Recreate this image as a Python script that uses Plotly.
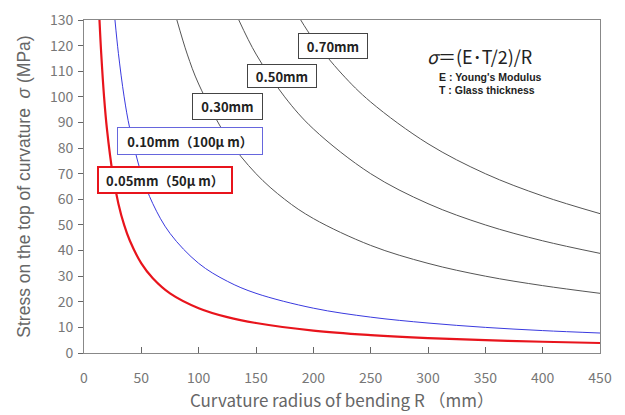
import plotly.graph_objects as go

# Curvature radius R (mm) and stress (MPa)
r_005 = [13.5, 15, 17.5, 20, 25, 30, 35, 40, 50, 60, 75, 100, 125, 150, 200, 250, 300, 350, 400, 450]
s_005 = [130, 117, 100, 87.5, 70, 58.3, 50, 43.8, 35, 29.2, 23.3, 17.5, 14, 11.7, 8.75, 7, 5.8, 5, 4.4, 3.9]

r_010 = [27, 30, 35, 40, 50, 60, 75, 100, 125, 150, 200, 250, 300, 350, 400, 450]
s_010 = [130, 117, 100, 87.5, 70, 58.3, 46.7, 35, 28, 23.3, 17.5, 14, 11.7, 10, 8.75, 7.8]

r_030 = [81, 90, 100, 125, 150, 175, 200, 250, 300, 350, 400, 450]
s_030 = [130, 116.7, 105, 84, 70, 60, 52.5, 42, 35, 30, 26.3, 23.3]

r_050 = [135, 150, 175, 200, 250, 300, 350, 400, 450]
s_050 = [130, 116.7, 100, 87.5, 70, 58.3, 50, 43.8, 38.9]

r_070 = [189, 200, 225, 250, 300, 350, 400, 450]
s_070 = [130, 122.5, 108.9, 98, 81.7, 70, 61.3, 54.4]

x_ticks = [0, 50, 100, 150, 200, 250, 300, 350, 400, 450]
y_ticks = [0, 10, 20, 30, 40, 50, 60, 70, 80, 90, 100, 110, 120, 130]

labels = ["0.70mm", "0.50mm", "0.30mm", "0.10mm（100μ m）", "0.05mm（50μ m）"]

FONT = "Noto Sans CJK JP"
fig = go.Figure()

def add(rx, sy, color, width):
    fig.add_trace(go.Scatter(x=rx, y=sy, mode="lines",
                             line=dict(color=color, width=width, shape="spline", smoothing=1.0),
                             showlegend=False, hoverinfo="skip"))

add(r_070, s_070, "#555555", 1)
add(r_050, s_050, "#555555", 1)
add(r_030, s_030, "#555555", 1)
add(r_010, s_010, "#3a3adf", 1)
add(r_005, s_005, "#e8141c", 2.2)

# plot area pixel geometry
L, R, T, B = 84, 600, 20, 353
W, H = R - L, B - T

def px(x):
    return (x - L) / W

def py(y):
    return (B - y) / H

boxes = [
    (labels[0], 333, 46, 68, 24, "#444444", 1),
    (labels[1], 282, 76, 68, 22, "#444444", 1),
    (labels[2], 227.5, 106.5, 69, 25, "#444444", 1),
    (labels[3], 190, 141, 144, 26, "#6666dd", 1),
    (labels[4], 164.5, 179.5, 132, 24, "#e8141c", 2),
]
for text, cx, cy, w, h, bc, bw in boxes:
    fig.add_annotation(x=px(cx), y=py(cy), xref="paper", yref="paper",
                       text="<b>%s</b>" % text, showarrow=False,
                       xanchor="center", yanchor="middle",
                       width=w, height=h, borderpad=0,
                       bordercolor=bc, borderwidth=bw, bgcolor="white",
                       font=dict(family=FONT, size=13, color="#222222"))

fig.add_annotation(x=px(479), y=py(56), xref="paper", yref="paper",
                   text="<i>σ</i>＝(E･T/2)/R", showarrow=False,
                   xanchor="center", yanchor="middle",
                   font=dict(family=FONT, size=18, color="#222222"))
fig.add_annotation(x=px(437), y=py(77), xref="paper", yref="paper",
                   text="<b>E : Young's Modulus</b>", showarrow=False,
                   xanchor="left", yanchor="middle",
                   font=dict(family="Liberation Sans", size=10.5, color="#222222"))
fig.add_annotation(x=px(437), y=py(90), xref="paper", yref="paper",
                   text="<b>T : Glass thickness</b>", showarrow=False,
                   xanchor="left", yanchor="middle",
                   font=dict(family="Liberation Sans", size=10.5, color="#222222"))

fig.update_layout(
    width=625, height=415,
    margin=dict(l=L, r=625 - R, t=T, b=415 - B),
    paper_bgcolor="white", plot_bgcolor="white",
    font=dict(family=FONT, color="#666666"),
    xaxis=dict(range=[0, 450], tickvals=x_ticks, ticks="inside", ticklen=6,
               tickcolor="#666666", showgrid=False, zeroline=False,
               showline=True, linecolor="#888888", linewidth=1, mirror=True,
               ticklabelstandoff=12, automargin=False,
               tickfont=dict(size=14, color="#777777"),
               title=dict(text="Curvature radius of bending R （mm）",
                          font=dict(size=17, color="#666666"), standoff=9)),
    yaxis=dict(range=[0, 130], tickvals=y_ticks, ticks="outside", ticklen=5,
               tickcolor="#666666", showgrid=False, zeroline=False,
               showline=True, linecolor="#888888", linewidth=1, mirror=True,
               ticklabelstandoff=2, automargin=False,
               tickfont=dict(size=14, color="#777777"),
               title=dict(text="Stress on the top of curvature  <i>σ</i> (MPa)",
                          font=dict(family="Liberation Sans, Arial, sans-serif", size=17.5, color="#666666"),
                          standoff=14)),
)

fig.write_html("out.html")
